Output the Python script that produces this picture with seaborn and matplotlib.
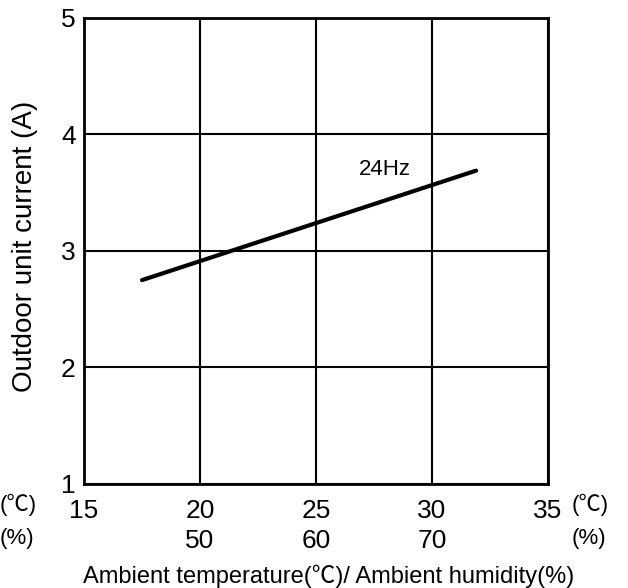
import pandas as pd
import matplotlib.pyplot as plt
import seaborn as sns

temps = [17.5, 31.9]
current = [2.75, 3.69]
series_label = '24Hz'

x_ticks = [15, 20, 25, 30, 35]
humidity = ['', '50', '60', '70', '']
y_ticks = [1, 2, 3, 4, 5]

sns.set_style('white')
plt.rcParams['font.family'] = ['Liberation Sans', 'Noto Sans CJK JP', 'DejaVu Sans']
plt.rcParams['text.color'] = 'black'
plt.rcParams['axes.labelcolor'] = 'black'
plt.rcParams['xtick.color'] = 'black'
plt.rcParams['ytick.color'] = 'black'

df = pd.DataFrame({'temp': temps, 'current': current})

fig = plt.figure(figsize=(6.28, 5.88), dpi=100)
ax = fig.add_axes([0.1338, 0.1769, 0.7389, 0.7925])

sns.lineplot(data=df, x='temp', y='current', color='black', linewidth=3, ax=ax)
ax.text(27.97, 3.70, series_label, fontsize=16, ha='center', va='center')

ax.set_xlim(15, 35)
ax.set_ylim(1, 5)
ax.set_xticks(x_ticks)
ax.set_xticklabels([f'{t}\n{h}' for t, h in zip(x_ticks, humidity)], fontsize=19, linespacing=1.28)
ax.set_yticks(y_ticks)
ax.set_yticklabels([str(v) for v in y_ticks], fontsize=19)
ax.tick_params(axis='x', length=0, pad=11)
ax.tick_params(axis='y', length=0, pad=6)
ax.grid(True, color='black', linewidth=1.5)
for s in ax.spines.values():
    s.set_color('black')
    s.set_linewidth(2)
ax.set_axisbelow(True)

ax.set_xlabel('Ambient temperature(℃)/ Ambient humidity(%)', fontsize=17)
ax.xaxis.set_label_coords(0.528, -0.172)
ax.set_ylabel('Outdoor unit current (A)', fontsize=20)
ax.yaxis.set_label_coords(-0.100, 0.51)

fig.text(0.0, 0.141, '(℃)', fontsize=16, ha='left', va='center')
fig.text(0.0, 0.085, '(%)', fontsize=16, ha='left', va='center')
fig.text(0.911, 0.141, '(℃)', fontsize=16, ha='left', va='center')
fig.text(0.911, 0.085, '(%)', fontsize=16, ha='left', va='center')

fig.savefig('out.png', dpi=100)
